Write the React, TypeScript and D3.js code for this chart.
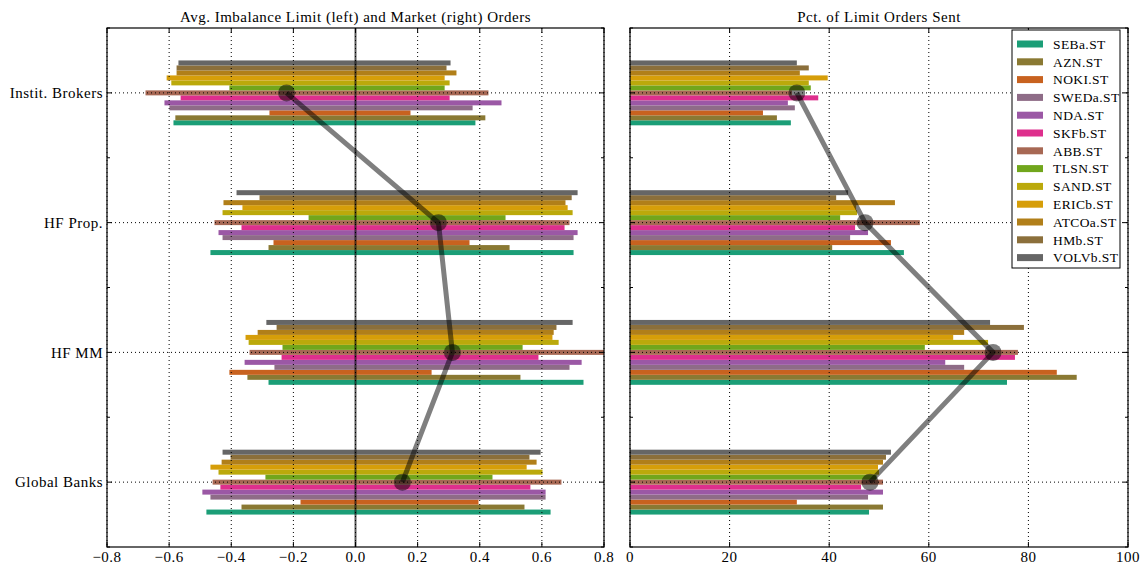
import React from "react";
import * as d3 from "d3";

// Trader groups (rows) and instruments (bars within each row)
const categories = ["Instit. Brokers", "HF Prop.", "HF MM", "Global Banks"];
const stocks = [
  "SEBa.ST", "AZN.ST", "NOKI.ST", "SWEDa.ST", "NDA.ST", "SKFb.ST", "ABB.ST",
  "TLSN.ST", "SAND.ST", "ERICb.ST", "ATCOa.ST", "HMb.ST", "VOLVb.ST",
];

// Average imbalance of limit orders (negative side), per group, per stock
const limitInstit = [-0.586, -0.58, -0.277, -0.599, -0.615, -0.563, -0.676, -0.406, -0.593, -0.608, -0.576, -0.576, -0.57];
const limitProp = [-0.467, -0.28, -0.264, -0.428, -0.441, -0.367, -0.454, -0.151, -0.428, -0.364, -0.425, -0.309, -0.383];
const limitMM = [-0.28, -0.348, -0.406, -0.261, -0.357, -0.238, -0.341, -0.235, -0.344, -0.354, -0.315, -0.254, -0.287];
const limitBanks = [-0.48, -0.367, -0.177, -0.467, -0.493, -0.435, -0.46, -0.29, -0.441, -0.467, -0.431, -0.402, -0.428];

// Average imbalance of market orders (positive side)
const marketInstit = [0.386, 0.418, 0.177, 0.377, 0.47, 0.303, 0.428, 0.287, 0.303, 0.287, 0.325, 0.293, 0.306];
const marketProp = [0.702, 0.496, 0.367, 0.702, 0.715, 0.673, 0.689, 0.483, 0.699, 0.683, 0.676, 0.696, 0.715];
const marketMM = [0.734, 0.531, 0.245, 0.689, 0.728, 0.589, 0.8, 0.538, 0.654, 0.634, 0.638, 0.647, 0.699];
const marketBanks = [0.628, 0.544, 0.396, 0.612, 0.612, 0.563, 0.663, 0.441, 0.602, 0.551, 0.583, 0.56, 0.596];

// Percentage of orders sent as limit orders
const pctInstit = [32.3, 29.5, 26.7, 33.1, 31.7, 37.8, 32.5, 36.3, 35.9, 39.7, 34.1, 35.9, 33.5];
const pctProp = [55.0, 40.6, 52.4, 44.2, 47.8, 45.2, 58.2, 42.2, 45.6, 45.4, 53.2, 41.4, 43.8];
const pctMM = [75.7, 89.7, 85.7, 67.1, 63.3, 77.3, 77.9, 59.2, 71.9, 64.9, 67.1, 79.1, 72.3];
const pctBanks = [48.0, 50.8, 33.5, 47.8, 50.8, 46.4, 50.8, 49.5, 50.0, 49.8, 50.8, 51.4, 52.4];

// Group averages drawn as the connected markers
const imbalanceAvg = [-0.222, 0.267, 0.312, 0.151];
const pctAvg = [33.5, 47.2, 72.9, 48.2];

const leftTicks = [-0.8, -0.6, -0.4, -0.2, 0.0, 0.2, 0.4, 0.6, 0.8];
const rightTicks = [0, 20, 40, 60, 80, 100];

const limitRows = [limitInstit, limitProp, limitMM, limitBanks];
const marketRows = [marketInstit, marketProp, marketMM, marketBanks];
const pctRows = [pctInstit, pctProp, pctMM, pctBanks];

const FONT = "'Liberation Serif', 'DejaVu Serif', serif";
const FS = 15;
const LS = 0.5;
const TOP = 28;
const BOTTOM = 547;

const colorAt = d3.piecewise(d3.interpolateRgb, d3.schemeDark2 as string[]);
const colors = stocks.map((_, i) => colorAt(i / (stocks.length - 1)));

const y = d3.scaleLinear().domain([-0.5, 3.5]).range([TOP, BOTTOM]);
const groupWidth = 0.5;
const barH = groupWidth / stocks.length;
const mid = (stocks.length - 1) / 2;
// stock i sits below the row centre for low indices (SEBa at the bottom)
const barCenter = (row: number, i: number) => row + (mid - i) * barH;

function fmtLeft(v: number) {
  const s = Math.abs(v).toFixed(1);
  return v < 0 ? "\u2212" + s : s;
}

type PanelProps = {
  x: d3.ScaleLinear<number, number>;
  ticks: number[];
  fmt: (v: number) => string;
  title: string;
  showY: boolean;
  children: React.ReactNode;
};

function Panel({ x, ticks, fmt, title, showY, children }: PanelProps) {
  const [x0, x1] = x.range();
  const yTicks = d3.range(-0.5, 3.51, 0.5);
  return (
    <g>
      {children}
      {/* grid on top of bars */}
      {ticks.map((t) => (
        <line key={"gx" + t} x1={x(t)} x2={x(t)} y1={TOP} y2={BOTTOM}
          stroke="#000" strokeWidth={1} strokeDasharray="1 3" />
      ))}
      {categories.map((_, r) => (
        <line key={"gy" + r} x1={x0} x2={x1} y1={y(r)} y2={y(r)}
          stroke="#000" strokeWidth={1} strokeDasharray="1 3" />
      ))}
      {/* ticks */}
      {ticks.map((t) => (
        <g key={"t" + t}>
          <line x1={x(t)} x2={x(t)} y1={BOTTOM} y2={BOTTOM - 5} stroke="#000" />
          <line x1={x(t)} x2={x(t)} y1={TOP} y2={TOP + 5} stroke="#000" />
          <text x={x(t)} y={BOTTOM + 15} textAnchor="middle" fontSize={FS}
            letterSpacing={LS} fontFamily={FONT} fill="#000">{fmt(t)}</text>
        </g>
      ))}
      {yTicks.map((t) => {
        const major = Number.isInteger(t);
        const len = major ? 5 : 3;
        return (
          <g key={"yt" + t}>
            <line x1={x0} x2={x0 + len} y1={y(t)} y2={y(t)} stroke="#000" />
            <line x1={x1} x2={x1 - len} y1={y(t)} y2={y(t)} stroke="#000" />
          </g>
        );
      })}
      {showY && categories.map((c, r) => (
        <text key={"yl" + c} x={x0 - 4} y={y(r)} dy="0.35em" textAnchor="end"
          fontSize={FS} letterSpacing={LS} fontFamily={FONT} fill="#000">{c}</text>
      ))}
      <rect x={x0} y={TOP} width={x1 - x0} height={BOTTOM - TOP}
        fill="none" stroke="#000" strokeWidth={1.2} />
      <text x={(x0 + x1) / 2} y={TOP - 6} textAnchor="middle" fontSize={FS}
        letterSpacing={LS} fontFamily={FONT} fill="#000">{title}</text>
    </g>
  );
}

function AvgLine({ x, values }: { x: d3.ScaleLinear<number, number>; values: number[] }) {
  const line = d3.line<number>().x((v) => x(v)).y((_, i) => y(i));
  return (
    <g>
      <path d={line(values) ?? ""} fill="none" stroke="#000" strokeOpacity={0.5}
        strokeWidth={5} strokeLinejoin="round" />
      {values.map((v, i) => (
        <circle key={i} cx={x(v)} cy={y(i)} r={8.5} fill="#000" fillOpacity={0.5} />
      ))}
    </g>
  );
}

export default function App() {
  const xL = d3.scaleLinear().domain([-0.8, 0.8]).range([107, 604]);
  const xR = d3.scaleLinear().domain([0, 100]).range([630, 1128]);
  const clipL = "clipLeft";
  const clipR = "clipRight";

  const legendX = 1012;
  const legendY = 30;
  const rowH = 17.8;

  return (
    <svg width={1141} height={565} style={{ position: "absolute", left: 0, top: 0, background: "#fff" }}>
      <defs>
        <clipPath id={clipL}><rect x={107} y={TOP} width={497} height={BOTTOM - TOP} /></clipPath>
        <clipPath id={clipR}><rect x={630} y={TOP} width={498} height={BOTTOM - TOP} /></clipPath>
      </defs>

      <Panel x={xL} ticks={leftTicks} fmt={fmtLeft}
        title="Avg. Imbalance Limit (left) and Market (right) Orders" showY={true}>
        <g clipPath={`url(#${clipL})`}>
          {categories.map((_, r) =>
            stocks.map((s, i) => {
              const cy = y(barCenter(r, i));
              const h = y(barH) - y(0);
              const lo = limitRows[r][i];
              const hi = marketRows[r][i];
              return (
                <g key={s + r}>
                  <rect x={xL(lo)} y={cy - h / 2} width={xL(0) - xL(lo)} height={h} fill={colors[i]} />
                  <rect x={xL(0)} y={cy - h / 2} width={xL(hi) - xL(0)} height={h} fill={colors[i]} />
                </g>
              );
            })
          )}
          <line x1={xL(0)} x2={xL(0)} y1={TOP} y2={BOTTOM} stroke="#000" strokeOpacity={0.65} strokeWidth={2} />
        </g>
      </Panel>
      <g clipPath={`url(#${clipL})`}>
        <AvgLine x={xL} values={imbalanceAvg} />
      </g>

      <Panel x={xR} ticks={rightTicks} fmt={(v) => String(v)}
        title="Pct. of Limit Orders Sent" showY={false}>
        <g clipPath={`url(#${clipR})`}>
          {categories.map((_, r) =>
            stocks.map((s, i) => {
              const cy = y(barCenter(r, i));
              const h = y(barH) - y(0);
              const v = pctRows[r][i];
              return (
                <rect key={s + r} x={xR(0)} y={cy - h / 2} width={xR(v) - xR(0)} height={h} fill={colors[i]} />
              );
            })
          )}
        </g>
      </Panel>
      <g clipPath={`url(#${clipR})`}>
        <AvgLine x={xR} values={pctAvg} />
      </g>

      {/* legend */}
      <g>
        <rect x={legendX} y={legendY} width={108} height={238} fill="#fff" stroke="#000" strokeWidth={1} />
        {stocks.map((s, i) => {
          const cy = legendY + 14 + i * rowH;
          return (
            <g key={"lg" + s}>
              <rect x={legendX + 5} y={cy - 3.5} width={26} height={7} fill={colors[i]} />
              <text x={legendX + 41} y={cy} dy="0.35em" fontSize={13.5} letterSpacing={0.4}
                fontFamily={FONT} fill="#000">{s}</text>
            </g>
          );
        })}
      </g>
    </svg>
  );
}
